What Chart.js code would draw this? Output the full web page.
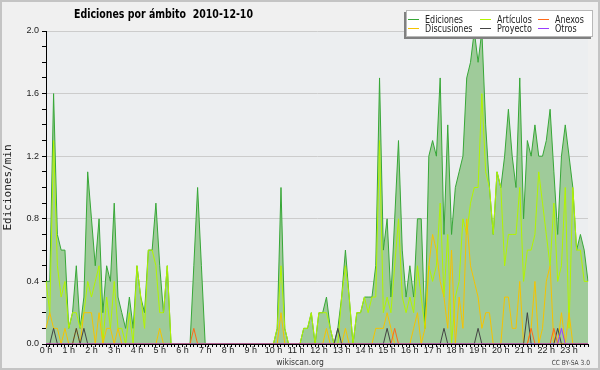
<!DOCTYPE html>
<html>
<head>
<meta charset="utf-8">
<script src="https://cdn.jsdelivr.net/npm/chart.js@4.4.0/dist/chart.umd.min.js"></script>
<style>
  html, body { margin: 0; padding: 0; background: #f0f0f0; }
</style>
</head>
<body>
<canvas id="editsChart" width="600" height="370"></canvas>
<script>
// hour tick labels, one point every 10 minutes (6 per hour)
const hourLabels = ["0 h", "1 h", "2 h", "3 h", "4 h", "5 h", "6 h", "7 h", "8 h", "9 h", "10 h", "11 h",
    "12 h", "13 h", "14 h", "15 h", "16 h", "17 h", "18 h", "19 h", "20 h", "21 h", "22 h", "23 h"];

const ediciones = [
    0.4, 0.4, 1.6, 0.7, 0.6, 0.6,
    0.1, 0.2, 0.5, 0.1, 0.3, 1.1,
    0.8, 0.5, 0.8, 0.2, 0.5, 0.4,
    0.9, 0.3, 0.2, 0.1, 0.3, 0.1,
    0.5, 0.3, 0.2, 0.6, 0.6, 0.9,
    0.5, 0.2, 0.5, 0, 0, 0,
    0, 0, 0, 0.5, 1.0, 0.5,
    0, 0, 0, 0, 0, 0,
    0, 0, 0, 0, 0, 0,
    0, 0, 0, 0, 0, 0,
    0, 0.1, 1.0, 0.1, 0, 0,
    0, 0, 0.1, 0.1, 0.2, 0,
    0.2, 0.2, 0.3, 0.1, 0, 0.1,
    0.3, 0.6, 0.3, 0, 0.2, 0.2,
    0.3, 0.3, 0.3, 0.5, 1.7, 0.6,
    0.8, 0.3, 0.8, 1.3, 0.6, 0.3,
    0.5, 0.3, 0.8, 0.8, 0.1, 1.2,
    1.3, 1.2, 1.7, 0.7, 1.4, 0.7,
    1.0, 1.1, 1.2, 1.7, 1.8, 2.0,
    1.8, 2.0, 1.4, 1.0, 0.7, 1.1,
    1.0, 1.2, 1.5, 1.2, 1.0, 1.7,
    0.8, 1.3, 1.2, 1.4, 1.2, 1.2,
    1.3, 1.5, 1.1, 0.7, 1.2, 1.4,
    1.2, 1.0, 0.6, 0.7, 0.6, 0.4
];

const articulos = [
    0.4, 0.2, 1.3, 0.5, 0.3, 0.4,
    0.1, 0.2, 0.2, 0.1, 0.2, 0.4,
    0.3, 0.4, 0.5, 0, 0.3, 0.1,
    0.4, 0.1, 0.1, 0, 0.2, 0,
    0.5, 0.3, 0.1, 0.6, 0.6, 0.5,
    0.2, 0.2, 0.5, 0, 0, 0,
    0, 0, 0, 0, 0, 0,
    0, 0, 0, 0, 0, 0,
    0, 0, 0, 0, 0, 0,
    0, 0, 0, 0, 0, 0,
    0, 0.1, 0.5, 0.1, 0, 0,
    0, 0, 0.1, 0.1, 0.2, 0,
    0.2, 0.2, 0.2, 0.1, 0, 0,
    0.3, 0.5, 0.3, 0, 0.2, 0.2,
    0.3, 0.2, 0.3, 0.3, 1.3, 0.2,
    0.3, 0.2, 0.5, 0.8, 0.3, 0.2,
    0.3, 0.2, 0.5, 0.3, 0.1, 0.5,
    0.4, 0.5, 0.9, 0.3, 0.7, 0,
    0.3, 0.4, 0.8, 0.7, 0.9, 1.0,
    1.0, 1.6, 1.1, 1.0, 0.7, 1.1,
    1.0, 0.5, 0.7, 0.7, 0.7, 1.0,
    0.4, 0.6, 0.6, 0.7, 1.1, 0.9,
    0.7, 0.5, 0.9, 0.4, 0.5, 1.0,
    0.1, 1.0, 0.6, 0.6, 0.4, 0.4
];

const discusiones = [
    0.1, 0.2, 0.1, 0.1, 0, 0.1,
    0, 0, 0.1, 0, 0.2, 0.2,
    0.2, 0, 0.2, 0, 0.1, 0.1,
    0, 0.1, 0, 0, 0, 0,
    0, 0, 0, 0, 0, 0,
    0.1, 0, 0, 0, 0, 0,
    0, 0, 0, 0, 0, 0,
    0, 0, 0, 0, 0, 0,
    0, 0, 0, 0, 0, 0,
    0, 0, 0, 0, 0, 0,
    0, 0, 0.2, 0, 0, 0,
    0, 0, 0, 0, 0, 0,
    0, 0, 0.1, 0, 0, 0,
    0, 0.1, 0, 0, 0, 0,
    0, 0, 0, 0.1, 0.1, 0.1,
    0.2, 0.1, 0, 0, 0, 0,
    0, 0.1, 0.2, 0, 0.1, 0.5,
    0.7, 0.6, 0.4, 0.3, 0.1, 0.6,
    0, 0.3, 0.1, 0.8, 0.5, 0.4,
    0.3, 0.1, 0.2, 0.2, 0, 0,
    0, 0.3, 0.3, 0.1, 0.1, 0.4,
    0, 0, 0.1, 0.4, 0, 0.1,
    0.4, 0.5, 0, 0, 0.2, 0,
    0.2, 0, 0, 0, 0, 0
];

const proyecto = [
    0, 0, 0.1, 0, 0, 0,
    0, 0, 0.1, 0, 0.1, 0,
    0, 0, 0, 0, 0, 0,
    0, 0, 0, 0, 0, 0,
    0, 0, 0, 0, 0, 0,
    0, 0, 0, 0, 0, 0,
    0, 0, 0, 0, 0, 0,
    0, 0, 0, 0, 0, 0,
    0, 0, 0, 0, 0, 0,
    0, 0, 0, 0, 0, 0,
    0, 0, 0, 0, 0, 0,
    0, 0, 0, 0, 0, 0,
    0, 0, 0, 0, 0, 0.1,
    0, 0, 0, 0, 0, 0,
    0, 0, 0, 0, 0, 0,
    0.1, 0, 0, 0, 0, 0,
    0, 0, 0, 0, 0, 0,
    0, 0, 0, 0.1, 0, 0,
    0, 0, 0, 0, 0, 0,
    0.1, 0, 0, 0, 0, 0,
    0, 0, 0, 0, 0, 0,
    0, 0.2, 0, 0, 0, 0,
    0, 0, 0, 0.1, 0, 0,
    0, 0, 0, 0, 0, 0
];

const anexos = [
    0, 0, 0, 0, 0, 0,
    0, 0, 0, 0, 0, 0,
    0, 0, 0, 0, 0, 0,
    0, 0, 0, 0, 0, 0,
    0, 0, 0, 0, 0, 0,
    0, 0, 0, 0, 0, 0,
    0, 0, 0, 0.1, 0, 0,
    0, 0, 0, 0, 0, 0,
    0, 0, 0, 0, 0, 0,
    0, 0, 0, 0, 0, 0,
    0, 0, 0, 0, 0, 0,
    0, 0, 0, 0, 0, 0,
    0, 0, 0, 0, 0, 0,
    0, 0, 0, 0, 0, 0,
    0, 0, 0, 0, 0, 0,
    0, 0, 0.1, 0, 0, 0,
    0, 0, 0, 0, 0, 0,
    0, 0, 0, 0, 0, 0,
    0, 0, 0, 0, 0, 0,
    0, 0, 0, 0, 0, 0,
    0, 0, 0, 0, 0, 0,
    0, 0, 0.1, 0, 0, 0,
    0, 0, 0.1, 0, 0, 0,
    0, 0, 0, 0, 0, 0
];

const otros = [
    0, 0, 0, 0, 0, 0,
    0, 0, 0, 0, 0, 0,
    0, 0, 0, 0, 0, 0,
    0, 0, 0, 0, 0, 0,
    0, 0, 0, 0, 0, 0,
    0, 0, 0, 0, 0, 0,
    0, 0, 0, 0, 0, 0,
    0, 0, 0, 0, 0, 0,
    0, 0, 0, 0, 0, 0,
    0, 0, 0, 0, 0, 0,
    0, 0, 0, 0, 0, 0,
    0, 0, 0, 0, 0, 0,
    0, 0, 0, 0, 0, 0,
    0, 0, 0, 0, 0, 0,
    0, 0, 0, 0, 0, 0,
    0, 0, 0, 0, 0, 0,
    0, 0, 0, 0, 0, 0,
    0, 0, 0, 0, 0, 0,
    0, 0, 0, 0, 0, 0,
    0, 0, 0, 0, 0, 0,
    0, 0, 0, 0, 0, 0,
    0, 0, 0, 0, 0, 0,
    0, 0, 0, 0, 0.1, 0,
    0, 0, 0, 0, 0, 0
];

// one category per 10-minute slot
const slots = [];
hourLabels.forEach(function (h, i) {
    for (let m = 0; m < 6; m++) slots.push(i + ":" + m + "0");
});

const colors = {
    ediciones: "#37a737",
    articulos: "#b2f400",
    discusiones: "#f5c300",
    proyecto: "#444444",
    anexos: "#ff6a1a",
    otros: "#9a3cff"
};

// draws text squeezed horizontally (the original uses a narrow font)
function squeezeText(ctx, text, x, y, font, color, align, sx) {
    ctx.save();
    ctx.font = font;
    ctx.fillStyle = color;
    ctx.textAlign = "left";
    ctx.textBaseline = "alphabetic";
    const w = ctx.measureText(text).width * sx;
    let x0 = x;
    if (align === "center") x0 = x - w / 2;
    if (align === "right") x0 = x - w;
    ctx.translate(x0, y);
    ctx.scale(sx, 1);
    ctx.fillText(text, 0, 0);
    ctx.restore();
}

const backgroundPlugin = {
    id: "backgroundPlugin",
    beforeDraw(chart) {
        const ctx = chart.ctx;
        const a = chart.chartArea;
        ctx.save();
        ctx.fillStyle = "#f0f0f0";
        ctx.fillRect(0, 0, chart.width, chart.height);
        ctx.fillStyle = "#eceef0";
        ctx.fillRect(a.left, a.top, a.right - a.left, a.bottom - a.top);
        ctx.strokeStyle = "#c4c4c4";
        ctx.lineWidth = 2;
        ctx.strokeRect(1, 1, chart.width - 2, chart.height - 2);
        ctx.restore();
    }
};

const decorPlugin = {
    id: "decorPlugin",
    afterDraw(chart) {
        const ctx = chart.ctx;
        // title
        ctx.save();
        ctx.font = "bold 13px 'DejaVu Sans'";
        const tw = ctx.measureText("Ediciones por ámbito  2010-12-10").width;
        ctx.restore();
        squeezeText(ctx, "Ediciones por ámbito  2010-12-10", 74, 18, "bold 13px 'DejaVu Sans'", "#000", "left", 179 / tw);

        // legend box
        ctx.save();
        ctx.fillStyle = "#808080";
        ctx.fillRect(404, 12, 187, 27);
        ctx.fillStyle = "#ffffff";
        ctx.fillRect(406, 10, 187, 27);
        ctx.strokeStyle = "#b8b8b8";
        ctx.lineWidth = 1;
        ctx.strokeRect(406.5, 10.5, 186, 26);
        ctx.restore();

        const items = [
            ["Ediciones", colors.ediciones, 408, 19],
            ["Artículos", colors.articulos, 480, 19],
            ["Anexos", colors.anexos, 538, 19],
            ["Discusiones", colors.discusiones, 408, 28],
            ["Proyecto", colors.proyecto, 480, 28],
            ["Otros", colors.otros, 538, 28]
        ];
        items.forEach(function (it) {
            ctx.save();
            ctx.strokeStyle = it[1];
            ctx.lineWidth = 1;
            ctx.beginPath();
            ctx.moveTo(it[2], it[3] + 0.5);
            ctx.lineTo(it[2] + 11, it[3] + 0.5);
            ctx.stroke();
            ctx.restore();
            squeezeText(ctx, it[0], it[2] + 17, it[3] + 4, "10px 'DejaVu Sans'", "#222", "left", 0.8);
        });

        // footer
        squeezeText(ctx, "wikiscan.org", 300, 365, "9px 'DejaVu Sans'", "#333", "center", 0.85);
        squeezeText(ctx, "CC BY-SA 3.0", 590, 365, "7px 'DejaVu Sans'", "#444", "right", 0.85);
    }
};

function lineSet(label, data, color, order) {
    return {
        label: label,
        data: data,
        borderColor: color,
        backgroundColor: color,
        borderWidth: 1,
        pointRadius: 0,
        tension: 0,
        fill: false,
        order: order
    };
}

const edicionesSet = lineSet("Ediciones", ediciones, colors.ediciones, 10);
edicionesSet.fill = "origin";
edicionesSet.backgroundColor = "#9fcb9a";

new Chart(document.getElementById("editsChart"), {
    type: "line",
    data: {
        labels: slots,
        datasets: [
            edicionesSet,
            lineSet("Artículos", articulos, colors.articulos, 5),
            lineSet("Discusiones", discusiones, colors.discusiones, 4),
            lineSet("Proyecto", proyecto, colors.proyecto, 3),
            lineSet("Anexos", anexos, colors.anexos, 2),
            lineSet("Otros", otros, colors.otros, 1)
        ]
    },
    options: {
        responsive: false,
        animation: false,
        devicePixelRatio: 1,
        layout: { padding: { top: 31, right: 12, left: 0, bottom: 0 } },
        plugins: {
            legend: { display: false },
            title: { display: false },
            tooltip: { enabled: false }
        },
        scales: {
            x: {
                type: "category",
                offset: false,
                afterFit: function (scale) { scale.height = 26; },
                grid: { drawOnChartArea: false, drawTicks: true, tickLength: 3, tickColor: "#000" },
                border: { display: true, color: "#000", width: 1 },
                ticks: {
                    autoSkip: false,
                    maxRotation: 0,
                    padding: -2,
                    color: "#222",
                    font: { family: "'Liberation Sans'", size: 9 },
                    callback: function (value, index) {
                        return index % 6 === 0 ? hourLabels[index / 6] : "";
                    }
                }
            },
            y: {
                min: 0,
                max: 2,
                afterFit: function (scale) { scale.width = 46; },
                grid: {
                    tickLength: 4,
                    tickColor: "#000",
                    color: function (c) {
                        return Math.round(c.tick.value * 10) % 4 === 0 ? "#cccccc" : "rgba(0,0,0,0)";
                    }
                },
                border: { display: true, color: "#000", width: 1 },
                ticks: {
                    stepSize: 0.1,
                    maxTicksLimit: 30,
                    autoSkip: false,
                    padding: 3,
                    color: "#222",
                    font: { family: "'Liberation Sans'", size: 9 },
                    callback: function (v) {
                        const r = Math.round(v * 10);
                        return r % 4 === 0 ? (r / 10).toFixed(1) : "";
                    }
                },
                title: {
                    display: true,
                    text: "Ediciones/min",
                    color: "#222",
                    padding: { top: 2, bottom: 0 },
                    font: { family: "'DejaVu Sans Mono'", size: 11 }
                }
            }
        }
    },
    plugins: [backgroundPlugin, decorPlugin]
});
</script>
</body>
</html>
